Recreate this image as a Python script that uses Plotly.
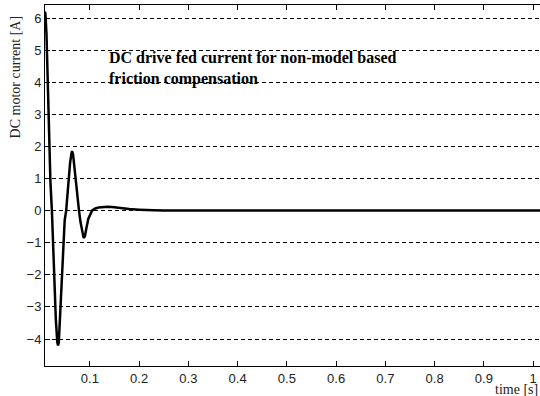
import plotly.graph_objects as go

# data
time_s = [0.009, 0.010, 0.012, 0.014, 0.017, 0.020, 0.023, 0.027, 0.031, 0.034, 0.0355,
          0.037, 0.040, 0.043, 0.046, 0.049, 0.052, 0.056, 0.060, 0.063, 0.064, 0.066,
          0.069, 0.072, 0.075, 0.078, 0.081, 0.084, 0.087, 0.088, 0.090, 0.093, 0.097,
          0.1045, 0.110, 0.118, 0.127, 0.135, 0.145, 0.160, 0.180, 0.200, 0.216, 0.230,
          0.250, 1.014]
current_a = [6.2, 6.1, 5.5, 4.3, 1.9, 0.9, 0.0, -1.8, -3.4, -4.1, -4.2,
             -4.1, -3.2, -2.1, -1.0, -0.3, 0.0, 0.8, 1.5, 1.8, 1.85, 1.75,
             1.3, 0.7, 0.25, 0.0, -0.35, -0.65, -0.82, -0.85, -0.8, -0.55, -0.25,
             0.0, 0.06, 0.1, 0.12, 0.12, 0.11, 0.08, 0.05, 0.03, 0.03, 0.01,
             0.0, 0.0]
x_ticks = [0.1, 0.2, 0.3, 0.4, 0.5, 0.6, 0.7, 0.8, 0.9, 1.0]
x_tick_labels = ["0.1", "0.2", "0.3", "0.4", "0.5", "0.6", "0.7", "0.8", "0.9", "1"]
y_ticks = [-4, -3, -2, -1, 0, 1, 2, 3, 4, 5, 6]

fig = go.Figure()
fig.add_trace(go.Scatter(x=time_s, y=current_a, mode="lines",
                         line=dict(color="black", width=2.5), showlegend=False))

tick_font = dict(family="Liberation Sans, Arial, sans-serif", size=13, color="#222")
serif = "Liberation Serif, Times New Roman, serif"
fig.update_layout(
    width=540, height=396,
    margin=dict(l=45, r=0, t=5, b=30),
    paper_bgcolor="white", plot_bgcolor="white",
    xaxis=dict(range=[0.009, 1.014], tickvals=x_ticks, ticktext=x_tick_labels,
               ticks="inside", ticklen=5, tickcolor="black", showgrid=False,
               showline=True, linecolor="black", linewidth=1, mirror="ticks",
               zeroline=False, tickfont=tick_font),
    yaxis=dict(range=[-4.84, 6.405], tickvals=y_ticks,
               ticks="inside", ticklen=5, tickcolor="black",
               showgrid=True, gridcolor="black", gridwidth=1, griddash="4px,3px",
               showline=True, linecolor="black", linewidth=1,
               zeroline=False, tickfont=tick_font),
    annotations=[
        dict(text="<b>DC drive fed current for non-model based<br>friction compensation</b>",
             x=0.135, y=5.1, xref="x", yref="y", xanchor="left", yanchor="top",
             align="left", showarrow=False,
             font=dict(family=serif, size=16, color="black")),
        dict(text="DC motor current [A]", textangle=-90, x=0, xref="paper",
             y=4.15, yref="y", xanchor="center", yanchor="middle", xshift=-30,
             showarrow=False,
             font=dict(family=serif, size=14, color="#222")),
        dict(text="time [s]", x=1, xref="paper", y=0, yref="paper",
             xanchor="right", yanchor="middle", yshift=-23, showarrow=False,
             font=dict(family=serif, size=14, color="#222")),
    ],
)

fig.write_html("out.html")
